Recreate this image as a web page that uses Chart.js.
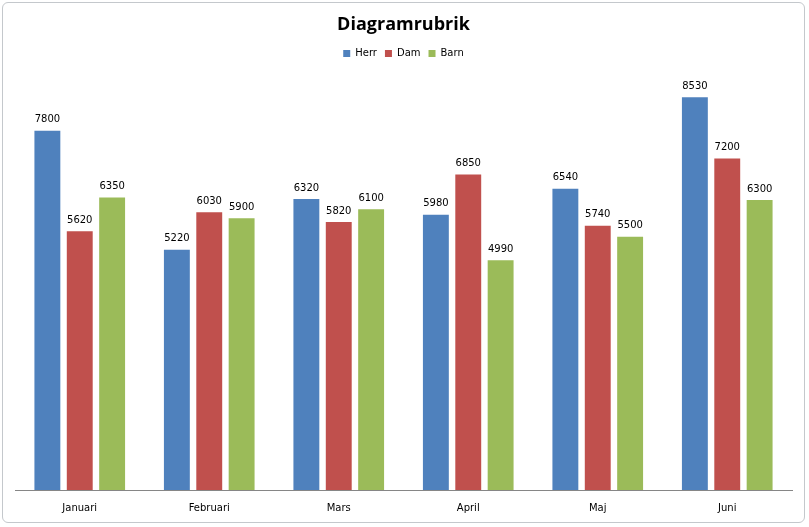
<!DOCTYPE html>
<html><head><meta charset="utf-8">
<script src="https://cdn.jsdelivr.net/npm/chart.js@4"></script>
<style>
html,body{margin:0;padding:0;background:#fff;}
#ram{position:absolute;left:2px;top:2px;width:801px;height:519px;border:1px solid #c4c8cc;border-radius:6px;}
#c{position:absolute;left:0;top:0;}
</style></head>
<body>
<div id="ram"></div>
<canvas id="c" width="809" height="527"></canvas>
<script>
const manader=["Januari","Februari","Mars","April","Maj","Juni"];
const herr=[7800,5220,6320,5980,6540,8530];
const dam=[5620,6030,5820,6850,5740,7200];
const barn=[6350,5900,6100,4990,5500,6300];
const BLA="#4F81BD",ROD="#C0504D",GRON="#9BBB59";

// värden ovanför staplarna
const etiketter={id:"etiketter",afterDatasetsDraw(ch){
  const ctx=ch.ctx;ctx.save();
  ctx.font="10px 'DejaVu Sans', sans-serif";ctx.fillStyle="#000";
  ctx.textAlign="center";ctx.textBaseline="bottom";
  ch.data.datasets.forEach((ds,i)=>{
    ch.getDatasetMeta(i).data.forEach((b,j)=>ctx.fillText(ds.data[j],b.x,b.y-6));
  });
  ctx.restore();
}};
// lite mer luft under förklaringen
const luft={id:"luft",beforeInit(ch){
  const f=ch.legend.fit;ch.legend.fit=function(){f.bind(ch.legend)();this.height+=7;};
}};

new Chart(document.getElementById("c"),{type:"bar",
  data:{labels:manader,datasets:[
    {label:"Herr",data:herr,backgroundColor:BLA},
    {label:"Dam",data:dam,backgroundColor:ROD},
    {label:"Barn",data:barn,backgroundColor:GRON}]},
  options:{responsive:false,animation:false,
    categoryPercentage:0.75,barPercentage:0.8,
    layout:{padding:{left:15,right:17,top:8,bottom:9}},
    plugins:{
      title:{display:true,text:"Diagramrubrik",color:"#000",font:{family:"'Open Sans', sans-serif",size:18,weight:"bold"},padding:{top:6,bottom:5}},
      legend:{position:"top",labels:{boxWidth:7,boxHeight:7,color:"#000",font:{family:"'DejaVu Sans', sans-serif",size:10},padding:8}},
      tooltip:{enabled:false}},
    scales:{
      x:{grid:{display:false},border:{color:"#868686"},ticks:{color:"#000",font:{family:"'DejaVu Sans', sans-serif",size:10},padding:4}},
      y:{display:false,min:0,max:9000}}},
  plugins:[etiketter,luft]});
</script>
</body></html>
